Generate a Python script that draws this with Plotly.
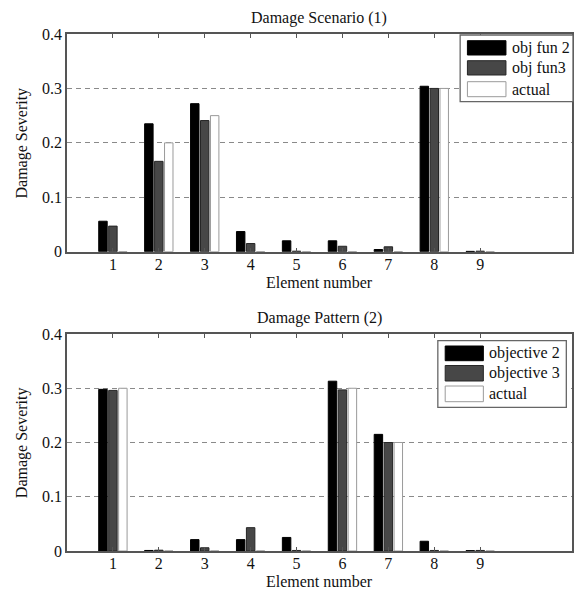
import plotly.graph_objects as go
from plotly.subplots import make_subplots

# ---------------- data ----------------
elements = [1, 2, 3, 4, 5, 6, 7, 8, 9]

s1_obj2 = [0.056, 0.235, 0.272, 0.037, 0.020, 0.020, 0.004, 0.304, 0.0006]
s1_obj3 = [0.047, 0.166, 0.241, 0.015, 0.001, 0.010, 0.009, 0.300, 0.001]
s1_actual = [0.0, 0.2, 0.25, 0.0, 0.0, 0.0, 0.0, 0.3, 0.0]

s2_obj2 = [0.298, 0.001, 0.021, 0.021, 0.025, 0.313, 0.215, 0.018, 0.0006]
s2_obj3 = [0.296, 0.0015, 0.006, 0.043, 0.001, 0.297, 0.200, 0.001, 0.001]
s2_actual = [0.3, 0.0, 0.0, 0.0, 0.0, 0.3, 0.2, 0.0, 0.0]

names1 = ["obj fun 2", "obj fun3", "actual"]
names2 = ["objective 2", "objective 3", "actual"]
panel_titles = ["Damage Scenario (1)", "Damage Pattern (2)"]
x_title = "Element number"
y_title = "Damage Severity"
y_ticks = [0, 0.1, 0.2, 0.3, 0.4]
y_tick_text = ["0", "0.1", "0.2", "0.3", "0.4"]

# ---------------- style ----------------
W, H = 577, 589
ML, MR, MT, MB = 67, 3, 34, 38
PW, PH = W - ML - MR, H - MT - MB
FONT = "'Liberation Serif', 'Times New Roman', serif"
TXT = "#111111"
fills = ["#000000", "#474747", "#ffffff"]
edges = ["#000000", "#262626", "#9a9a9a"]


def px_x(p):
    return (p - ML) / PW


def px_y(p):
    return (H - MB - p) / PH


fig = make_subplots(rows=2, cols=1)

series = [(s1_obj2, s1_obj3, s1_actual, names1), (s2_obj2, s2_obj3, s2_actual, names2)]
for r, (a, b, c, nm) in enumerate(series, start=1):
    for vals, name, fc, ec in zip((a, b, c), nm, fills, edges):
        fig.add_trace(
            go.Bar(x=elements, y=vals, name=name, showlegend=False,
                   marker=dict(color=fc, line=dict(color=ec, width=1))),
            row=r, col=1)

top_dom = [px_y(251.7), 1.0]
bot_dom = [0.0, px_y(334)]

axis_common_x = dict(
    range=[0, 11], tickvals=elements, ticktext=[str(e) for e in elements],
    ticks="inside", ticklen=4, tickcolor="#555", tickwidth=1,
    showline=True, linecolor="#555", linewidth=1.5, mirror="ticks",
    showgrid=False, zeroline=False, ticklabelstandoff=-3,
    tickfont=dict(family=FONT, size=16, color=TXT),
)
axis_common_y = dict(
    range=[0, 0.4], tickvals=y_ticks, ticktext=y_tick_text,
    ticks="", showline=True, linecolor="#555", linewidth=1.5, mirror=True,
    showgrid=True, gridcolor="#8a8a8a", gridwidth=1.2, griddash="5px,4px",
    zeroline=False,
    tickfont=dict(family=FONT, size=16, color=TXT),
)

fig.update_layout(
    xaxis=dict(domain=[0, 1], anchor="y", **axis_common_x),
    yaxis=dict(domain=top_dom, anchor="x", **axis_common_y),
    xaxis2=dict(domain=[0, 1], anchor="y2", **axis_common_x),
    yaxis2=dict(domain=bot_dom, anchor="x2", **axis_common_y),
)

annotations = []
shapes = []

# panel titles, axis titles
title_y = [18, 317.7]
xlab_y = [282, 581]
ycenter = [(34 + 251.7) / 2, (334 + 551) / 2]
for i in range(2):
    annotations.append(dict(text=panel_titles[i], xref="paper", yref="paper",
                            x=px_x(320), y=px_y(title_y[i]), xanchor="center", yanchor="middle",
                            showarrow=False, font=dict(family=FONT, size=16, color=TXT)))
    annotations.append(dict(text=x_title, xref="paper", yref="paper",
                            x=px_x(320), y=px_y(xlab_y[i]), xanchor="center", yanchor="middle",
                            showarrow=False, font=dict(family=FONT, size=16, color=TXT)))
    annotations.append(dict(text=y_title, xref="paper", yref="paper", textangle=-90,
                            x=px_x(21.5), y=px_y(ycenter[i]), xanchor="center", yanchor="middle",
                            showarrow=False, font=dict(family=FONT, size=16, color=TXT)))

# legends (drawn as boxes with swatches)
legend_specs = [
    dict(box=(461.7, 35, 575, 101.7), sw=(469, 507.7),
         rows=[(40.7, 55), (60.7, 75), (81.7, 96.7)], tx=511.5, names=names1),
    dict(box=(439.3, 340.7, 568.3, 407.3), sw=(446.7, 485),
         rows=[(346, 360.7), (365.5, 381), (386, 401.7)], tx=488.3, names=names2),
]
for spec in legend_specs:
    x0, y0, x1, y1 = spec["box"]
    shapes.append(dict(type="rect", xref="paper", yref="paper",
                       x0=px_x(x0), x1=px_x(x1), y0=px_y(y1), y1=px_y(y0),
                       fillcolor="white", line=dict(color="#666", width=1.3), layer="above"))
    for (ra, rb), fc, ec, name in zip(spec["rows"], fills, edges, spec["names"]):
        shapes.append(dict(type="rect", xref="paper", yref="paper",
                           x0=px_x(spec["sw"][0]), x1=px_x(spec["sw"][1]),
                           y0=px_y(rb), y1=px_y(ra),
                           fillcolor=fc, line=dict(color=ec, width=1), layer="above"))
        annotations.append(dict(text=name, xref="paper", yref="paper",
                                x=px_x(spec["tx"]), y=px_y((ra + rb) / 2),
                                xanchor="left", yanchor="middle", showarrow=False,
                                font=dict(family=FONT, size=16, color=TXT)))

fig.update_layout(
    width=W, height=H,
    margin=dict(l=ML, r=MR, t=MT, b=MB, pad=0),
    paper_bgcolor="white", plot_bgcolor="white",
    barmode="group", bargap=0.35, bargroupgap=0.15,
    showlegend=False,
    annotations=annotations, shapes=shapes,
    font=dict(family=FONT, size=16, color=TXT),
)

fig.write_html("out.html",
               config={"displayModeBar": False},
               post_script="document.body.style.margin='0px';document.body.style.overflow='hidden';")
